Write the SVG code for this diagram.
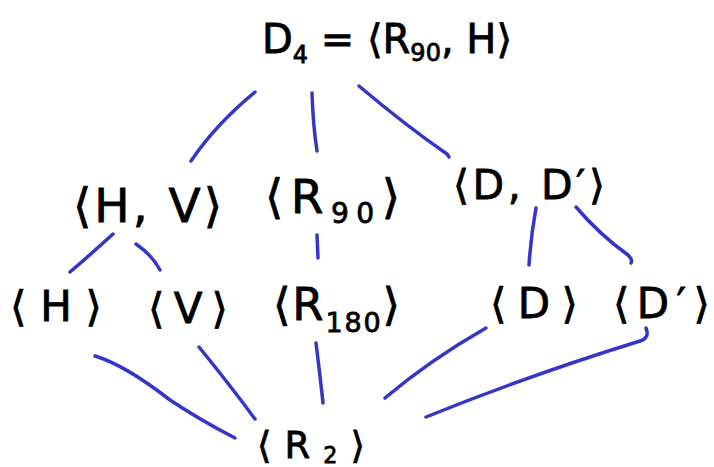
<svg xmlns="http://www.w3.org/2000/svg" width="714" height="467" viewBox="0 0 714 467">
<style>
.lbl{font-family:"DejaVu Sans","Liberation Sans",sans-serif;fill:#000;stroke:#000;stroke-width:0.8}
.sub{font-size:0.6em}
.edge{fill:none;stroke:#3535c8;stroke-width:3.5;stroke-linecap:round;stroke-linejoin:round}
</style>
<rect width="714" height="467" fill="#fff"/>
<g id="connectors">
<path class="edge" d="M255,92 Q215,125 191,161"/>
<path class="edge" d="M312,93 Q313,125 317,151"/>
<path class="edge" d="M359,86 Q405,125 447,154 L449,157"/>
<path class="edge" d="M113,234 Q90,255 70,272"/>
<path class="edge" d="M136,244 Q152,255 160,270"/>
<path class="edge" d="M317,235 L318,258"/>
<path class="edge" d="M536,208 Q531,235 529,265"/>
<path class="edge" d="M576,207 Q600,235 628,255 Q633,260 631,263"/>
<path class="edge" d="M95,356 Q125,365 170,400 Q200,420 235,438"/>
<path class="edge" d="M199,347 Q230,385 255,419"/>
<path class="edge" d="M316,343 Q320,375 323,403"/>
<path class="edge" d="M486,328 Q430,360 385,398"/>
<path class="edge" d="M646,328 Q650,338 640,341 Q530,375 426,417"/>
</g>
<g id="n_D4"><text class="lbl" x="262" y="53" font-size="40" textLength="250" lengthAdjust="spacing">D<tspan class="sub" dy="10">4</tspan><tspan dy="-10"> = ⟨R</tspan><tspan class="sub" dy="8">90</tspan><tspan dy="-8">, H⟩</tspan></text></g>
<g id="n_HV"><text class="lbl" x="73" y="222" font-size="47" textLength="149" lengthAdjust="spacing">⟨H, V⟩</text></g>
<g id="n_R90"><text class="lbl" x="265" y="213" font-size="47" textLength="135" lengthAdjust="spacing">⟨R<tspan class="sub" dy="10">90</tspan><tspan dy="-10">⟩</tspan></text></g>
<g id="n_DD"><text class="lbl" x="453" y="199" font-size="41" textLength="152" lengthAdjust="spacing">⟨D, D′⟩</text></g>
<g id="n_H"><text class="lbl" x="10" y="321" font-size="42" textLength="92" lengthAdjust="spacing">⟨H⟩</text></g>
<g id="n_V"><text class="lbl" x="148" y="323" font-size="42" textLength="80" lengthAdjust="spacing">⟨V⟩</text></g>
<g id="n_R180"><text class="lbl" x="273" y="320" font-size="45" textLength="127" lengthAdjust="spacing">⟨R<tspan class="sub" dy="12">180</tspan><tspan dy="-12">⟩</tspan></text></g>
<g id="n_D"><text class="lbl" x="490" y="318" font-size="42" textLength="88" lengthAdjust="spacing">⟨D⟩</text></g>
<g id="n_Dp"><text class="lbl" x="613" y="318" font-size="42" textLength="97" lengthAdjust="spacing">⟨D′⟩</text></g>
<g id="n_R2"><text class="lbl" x="257" y="458" font-size="37" textLength="108" lengthAdjust="spacing">⟨R<tspan class="sub" dy="5">2</tspan><tspan dy="-5">⟩</tspan></text></g>
</svg>
